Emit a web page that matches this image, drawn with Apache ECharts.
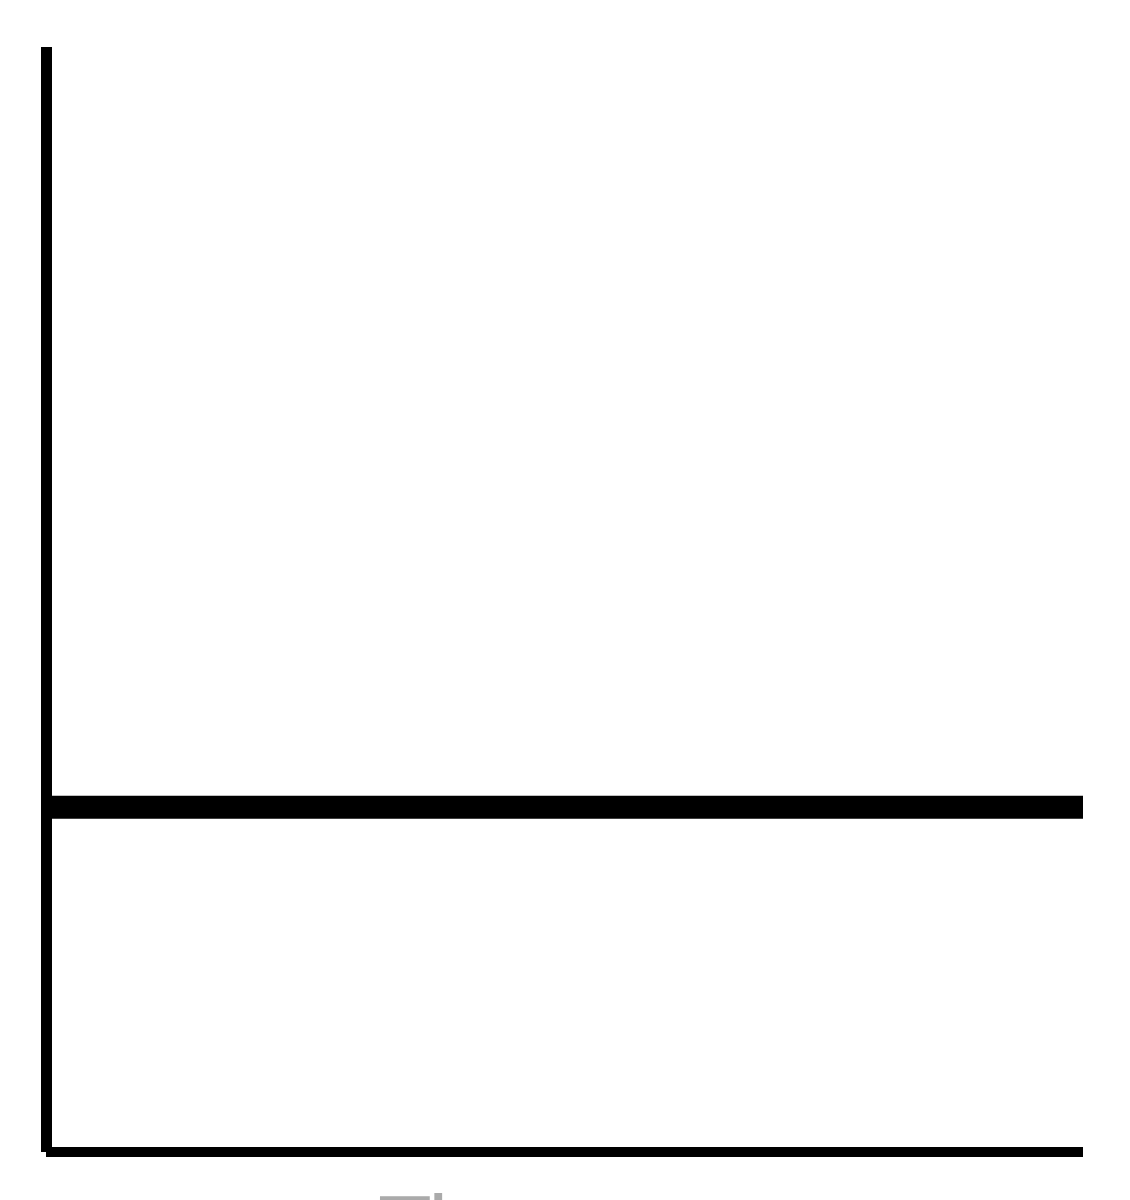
<!DOCTYPE html>
<html>
<head>
<meta charset="utf-8">
<style>
html,body{margin:0;padding:0;background:#fff;}
#chart{width:1130px;height:1200px;}
</style>
<script src="https://cdn.jsdelivr.net/npm/echarts@6/dist/echarts.min.js"></script>
</head>
<body>
<div id="chart"></div>
<script>
// Data
const xRange = [0, 1];
const levelValue = 31.2;
const levelSeries = [[0, levelValue], [1, levelValue]];
const yRange = [0, 100];
const xAxisTitle = 'Time';

const chart = echarts.init(document.getElementById('chart'), null, {renderer: 'canvas'});
chart.setOption({
  backgroundColor: '#ffffff',
  animation: false,
  grid: {left: 46, right: 47, top: 47, bottom: 48, containLabel: false},
  xAxis: {
    type: 'value', min: xRange[0], max: xRange[1],
    axisLine: {show: true, onZero: false, lineStyle: {color: '#000', width: 10, cap: 'butt'}},
    axisTick: {show: false}, axisLabel: {show: false}, splitLine: {show: false}
  },
  yAxis: {
    type: 'value', min: yRange[0], max: yRange[1],
    axisLine: {show: true, onZero: false, lineStyle: {color: '#000', width: 11, cap: 'butt'}},
    axisTick: {show: false}, axisLabel: {show: false}, splitLine: {show: false}
  },
  series: [{
    type: 'line',
    data: levelSeries,
    symbol: 'none',
    lineStyle: {color: '#000', width: 23, cap: 'butt'},
    silent: true
  }],
  graphic: [{
    type: 'text',
    left: 378,
    top: 1188,
    style: {
      text: xAxisTitle,
      fill: '#aaaaaa',
      fontSize: 88,
      fontFamily: 'Liberation Sans, Arial, sans-serif'
    }
  }]
});
</script>
</body>
</html>
